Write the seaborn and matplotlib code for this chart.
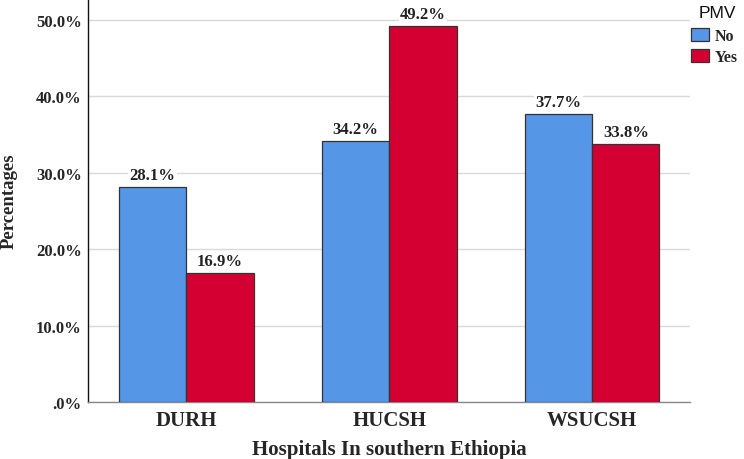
import matplotlib
matplotlib.use("Agg")
import matplotlib.pyplot as plt
import seaborn as sns
import pandas as pd

hospitals = ["DURH", "HUCSH", "WSUCSH"]
pmv_levels = ["No", "Yes"]
no_values = [28.1, 34.2, 37.7]
yes_values = [16.9, 49.2, 33.8]
y_ticks = [0, 10, 20, 30, 40, 50]
y_tick_labels = [".0%", "10.0%", "20.0%", "30.0%", "40.0%", "50.0%"]

df = pd.DataFrame({
    "Hospital": hospitals * 2,
    "PMV": [pmv_levels[0]] * 3 + [pmv_levels[1]] * 3,
    "Pct": no_values + yes_values,
})

sns.set_style("white")
serif = ["Liberation Serif", "DejaVu Serif"]
sans = ["Liberation Sans", "DejaVu Sans"]
plt.rcParams["font.family"] = serif

W, H = 744, 460
fig = plt.figure(figsize=(W / 100, H / 100), dpi=100)
ax = fig.add_axes([88 / W, 57 / H, (690 - 88) / W, 403 / H])

palette = {"No": "#5596E6", "Yes": "#D50032"}
sns.barplot(data=df, x="Hospital", y="Pct", hue="PMV", order=hospitals,
            hue_order=pmv_levels, palette=palette, width=0.665,
            edgecolor="#333333", linewidth=0.9, saturation=1, ax=ax,
            zorder=3, legend=False)

for cont in ax.containers:
    texts = ax.bar_label(cont, labels=[f"{v:.1f}%" for v in cont.datavalues],
                         padding=3, fontsize=12, fontweight="bold",
                         family=serif, color="#222222", zorder=4)
    for t in texts:
        t.set_bbox(dict(facecolor="white", edgecolor="none", pad=1.0))

ax.set_xlim(-0.485, 2.483)
ax.set_ylim(0, 52.75)
ax.set_yticks(y_ticks)
ax.set_yticklabels(y_tick_labels, fontsize=12, fontweight="bold")
ax.tick_params(axis="x", labelsize=15, length=0, pad=6)
ax.tick_params(axis="y", length=0, pad=4.5)
for lab in ax.get_xticklabels():
    lab.set_fontweight("bold")
ax.yaxis.grid(True, color="#d9d9d9", linewidth=1, zorder=0)
ax.set_axisbelow(True)

ax.set_xlabel("Hospitals In southern Ethiopia", fontsize=15, fontweight="bold",
              va="baseline")
ax.xaxis.set_label_coords(0.5, (403 - 455) / 403)
ax.set_ylabel("Percentages", fontsize=13.5, fontweight="bold", va="center")
ax.yaxis.set_label_coords((9 - 88) / (690 - 88), 0.5)

for s in ["top", "right"]:
    ax.spines[s].set_visible(False)
ax.spines["left"].set_color("#111111")
ax.spines["left"].set_linewidth(1.0)
ax.spines["bottom"].set_color("#888888")
ax.spines["bottom"].set_linewidth(1.0)

handles = [plt.Rectangle((0, 0), 1, 1, facecolor=palette[k], edgecolor="#333333",
                         linewidth=0.9) for k in pmv_levels]
fig.legend(handles, pmv_levels, loc="upper left",
           bbox_to_anchor=(691 / W, 1 - 29 / H), bbox_transform=fig.transFigure,
           frameon=False, prop={"family": serif, "weight": "bold", "size": 11.5},
           handlelength=1.1, handleheight=0.85, handletextpad=0.4,
           borderaxespad=0.0, labelspacing=0.3, borderpad=0.0)
fig.text(699 / W, 1 - 18 / H, "PMV", family=sans, fontsize=12.5,
         va="baseline", ha="left", color="#111111")

fig.savefig("out.png", dpi=100)
